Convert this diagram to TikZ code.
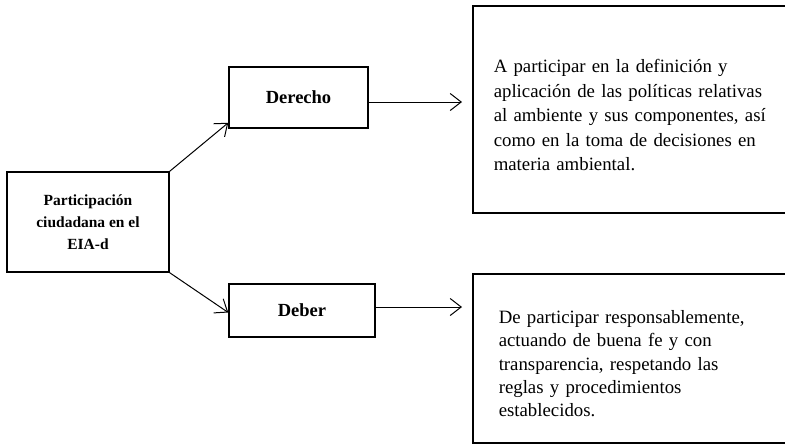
\documentclass[tikz,border=0pt]{standalone}
\usepackage{fontspec}
\setmainfont{Liberation Serif}
\usetikzlibrary{arrows.meta}

\begin{document}
\begin{tikzpicture}[x=1pt,y=-1pt,
  box/.style={draw,line width=1.5pt,inner sep=0pt,align=center,font=\bfseries},
  bigbox/.style={draw,line width=1.5pt,anchor=north west,align=left,text width=292pt},
  arr/.style={line width=1pt,-{Straight Barb[length=11pt,width=17pt,line width=1pt]}}]
\useasboundingbox (0,0) rectangle (785,445);

\node[box,minimum width=162pt,minimum height=100pt,font=\bfseries\fontsize{15.5}{22}\selectfont]
  (main) at (88,222) {Participación\\ciudadana en el\\EIA-d};
\node[box,minimum width=139pt,minimum height=61pt,font=\bfseries\fontsize{18.5}{22}\selectfont]
  (derecho) at (298.5,97.5) {Derecho};
\node[box,minimum width=146pt,minimum height=53pt,font=\bfseries\fontsize{18.5}{22}\selectfont]
  (deber) at (302,310.5) {Deber};

\node[bigbox,inner xsep=21pt,minimum height=207pt,font=\fontsize{18.8}{24.5}\selectfont]
  (derechotxt) at (472,5)
  {\rule{0pt}{25pt}A participar en la definición y\\aplicación de las políticas relativas\\al ambiente y sus componentes, así\\como en la toma de decisiones en\\materia ambiental.};
\node[bigbox,inner xsep=26pt,minimum height=169pt,font=\fontsize{18.8}{23.3}\selectfont]
  (debertxt) at (472,273)
  {\rule{0pt}{24pt}De participar responsablemente,\\actuando de buena fe y con\\transparencia, respetando las\\reglas y procedimientos\\establecidos.};

\coordinate (tip1) at (462,102);
\coordinate (tip2) at (462,307);

\draw[arr] (main.north east) -- ([yshift=6pt]derecho.south west);
\draw[arr] (main.south east) -- ([yshift=-2pt]deber.west);
\draw[arr] (derecho.east |- tip1) -- (tip1);
\draw[arr] (deber.east |- tip2) -- (tip2);
\end{tikzpicture}
\end{document}
